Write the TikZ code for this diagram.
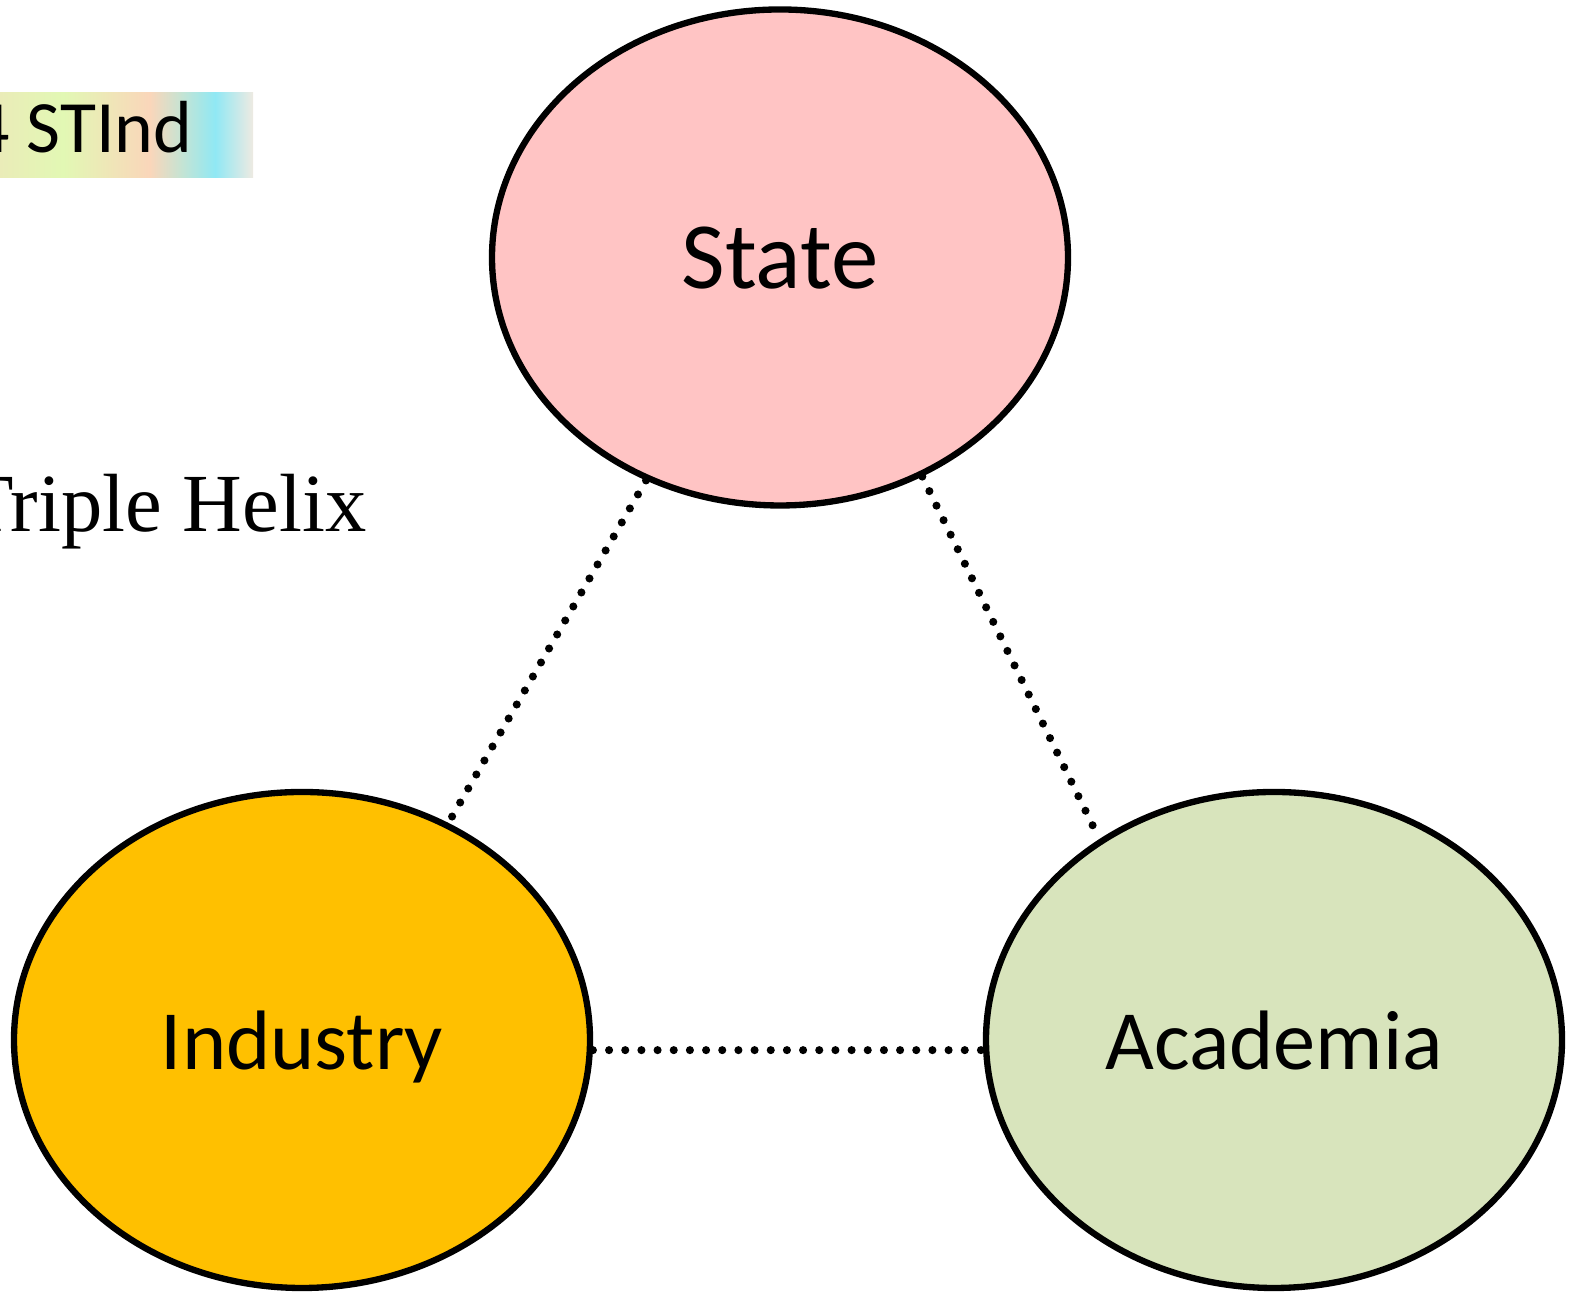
\documentclass[tikz,border=0pt]{standalone}
\usepackage{fontspec}
\setmainfont{Carlito}
\newfontfamily\timesfont{Liberation Serif}
\usetikzlibrary{shapes.geometric,positioning}

\definecolor{statepink}{RGB}{255,196,196}
\definecolor{industryorange}{RGB}{255,192,0}
\definecolor{academiagreen}{RGB}{216,228,188}
\definecolor{tagA}{RGB}{234,236,184}
\definecolor{tagB}{RGB}{226,248,180}
\definecolor{tagC}{RGB}{250,214,186}
\definecolor{tagD}{RGB}{196,228,212}
\definecolor{tagE}{RGB}{144,232,244}
\definecolor{tagF}{RGB}{238,234,226}
\pgfdeclarehorizontalshading{tagshade}{100bp}{color(0bp)=(tagA); color(25bp)=(tagA); color(37.5bp)=(tagB); color(54.6bp)=(tagC); color(61bp)=(tagD); color(67.5bp)=(tagE); color(75bp)=(tagF); color(100bp)=(tagF)}

\tikzset{
  sector/.style={ellipse, draw, line width=1.8pt, minimum width=5.76cm, minimum height=4.96cm, inner sep=0pt, text depth=0pt},
  link/.style={line width=2.3pt, line cap=round, dash pattern=on 0pt off 4.6pt}
}

\begin{document}
\begin{tikzpicture}
\useasboundingbox (0,0) rectangle (15.73,12.94);
\clip (0,0) rectangle (15.73,12.94);
% Ellipses
\node[sector, fill=statepink, font=\fontsize{27}{32}\selectfont] (S) at (7.80,10.365) {State};
\node[sector, fill=industryorange, font=\fontsize{24}{29}\selectfont, on grid, below left=7.825cm and 4.78cm of S] (I) {Industry};
\node[sector, fill=academiagreen, font=\fontsize{24}{29}\selectfont, on grid, below right=7.825cm and 4.94cm of S] (A) {Academia};
% Links
\draw[link] (S.239.3) -- (I.56.4);
\draw[link] (S.303.1) -- (A.131);
\draw[link] (I.-2.5) -- (A.182.5);
% Text
\shade[shading=tagshade] (0,11.16) rectangle (2.53,12.01);
\node[anchor=base east, inner sep=0pt, font=\fontsize{21}{25}\selectfont] (tag) at (1.93,11.41) {4 STInd};
\node[anchor=base east, inner sep=0pt, font=\timesfont\fontsize{23.5}{28}\selectfont] (title) at (3.67,7.62) {Triple Helix};
\end{tikzpicture}
\end{document}
